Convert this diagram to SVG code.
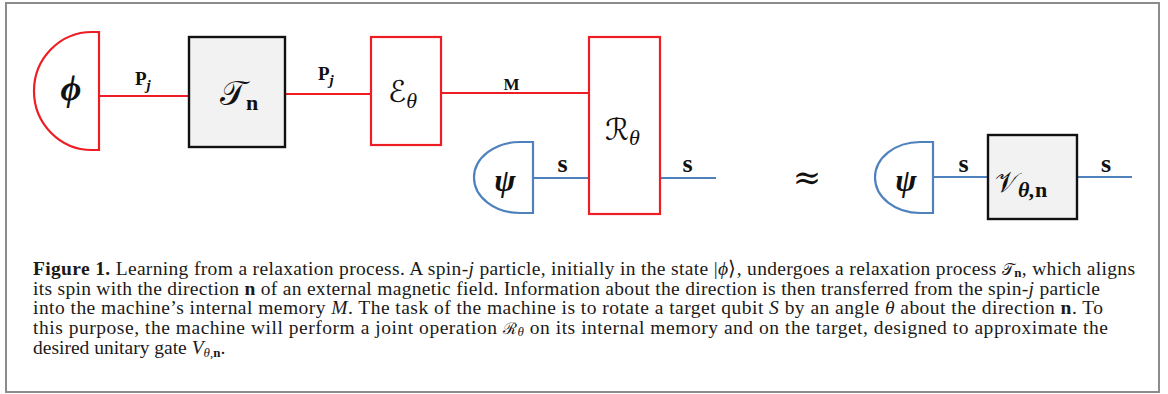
<svg xmlns="http://www.w3.org/2000/svg" width="1168" height="394" viewBox="0 0 1168 394">
<style>
.red{fill:none;stroke:#ee1d23;stroke-width:2.2}
.redbox{fill:#ffffff;stroke:#ee1d23;stroke-width:2.2}
.blue{fill:none;stroke:#4f81bd;stroke-width:2.2}
.bluebox{fill:#ffffff;stroke:#4f81bd;stroke-width:2.2}
.gbox{fill:#f2f2f2;stroke:#111;stroke-width:2.4}
.sym{font-family:"Liberation Serif","DejaVu Serif",serif;font-style:italic;font-weight:bold;fill:#111}
.scr{font-family:"DejaVu Serif","DejaVu Sans","Liberation Serif",serif;fill:#111}
.lab{font-family:"Liberation Serif","DejaVu Serif",serif;font-weight:bold;fill:#111}
.cap{font-family:"Liberation Serif","Times New Roman",serif;font-size:19.5px;fill:#1a1a1a}
.b{font-weight:bold}
.i{font-style:italic}
</style>
<rect x="6" y="3" width="1153" height="389" fill="#fff" stroke="#8c8c8c" stroke-width="2"/>

<g id="connectors">
<line class="red" x1="99" y1="96" x2="189" y2="96"/>
<line class="red" x1="285" y1="94" x2="371" y2="94"/>
<line class="red" x1="441" y1="93" x2="589" y2="93"/>
<line class="blue" x1="533" y1="178" x2="589" y2="178"/>
<line class="blue" x1="660" y1="178" x2="716" y2="178"/>
<line class="blue" x1="933" y1="177" x2="988" y2="177"/>
<line class="blue" x1="1077" y1="177" x2="1132" y2="177"/>
<text class="lab" x="135" y="85" font-size="19">P<tspan class="i" font-size="15" dy="5">j</tspan></text>
<text class="lab" x="318" y="80" font-size="19">P<tspan class="i" font-size="15" dy="5">j</tspan></text>
<text class="lab" x="511.5" y="90" font-size="17" text-anchor="middle">M</text>
<text class="lab" x="562.5" y="172" font-size="26" text-anchor="middle">s</text>
<text class="lab" x="687.5" y="172" font-size="26" text-anchor="middle">s</text>
<text class="lab" x="963.5" y="172" font-size="26" text-anchor="middle">s</text>
<text class="lab" x="1106" y="172" font-size="26" text-anchor="middle">s</text>
</g>

<g id="phi">
<path class="redbox" d="M99 32 L92 32 A58 59 0 0 0 92 150 L99 150 Z"/>
<text class="sym" x="71" y="100" font-size="36" text-anchor="middle">ϕ</text>
</g>

<g id="T">
<rect class="gbox" x="189" y="37" width="96" height="110"/>
<text class="scr" x="220" y="105" font-size="34">𝒯<tspan font-family="Liberation Serif" font-weight="bold" font-size="22" dy="5">n</tspan></text>
</g>

<g id="E">
<rect class="redbox" x="371" y="37" width="70" height="108"/>
<text class="scr" x="388" y="102" font-size="30">ℰ<tspan font-family="Liberation Serif" font-style="italic" font-size="22" dy="6">θ</tspan></text>
</g>

<g id="R">
<rect class="redbox" x="589" y="37" width="71" height="177"/>
<text class="scr" x="605" y="140" font-size="30">ℛ<tspan font-family="Liberation Serif" font-style="italic" font-size="22" dy="5">θ</tspan></text>
</g>

<g id="psi1">
<path class="bluebox" d="M533 142 L520 142 A46 35.5 0 0 0 520 213 L533 213 Z"/>
<text class="sym" x="505" y="191" font-size="32" text-anchor="middle">ψ</text>
</g>

<g id="approx">
<text x="807" y="189" font-family="DejaVu Serif, serif" font-size="34" text-anchor="middle" fill="#111">≈</text>
</g>

<g id="psi2">
<path class="bluebox" d="M933 142 L920 142 A45 35.5 0 0 0 920 213 L933 213 Z"/>
<text class="sym" x="906" y="191" font-size="32" text-anchor="middle">ψ</text>
</g>

<g id="V">
<rect class="gbox" x="988" y="135" width="89" height="84"/>
<text class="scr" x="995" y="192" font-size="28">𝒱<tspan font-family="Liberation Serif" font-style="italic" font-weight="bold" font-size="22" dy="5">θ,</tspan><tspan font-family="Liberation Serif" font-weight="bold" font-size="22">n</tspan></text>
</g>

<g id="caption">
<text class="cap" x="33" y="274.5" textLength="1102" lengthAdjust="spacing"><tspan class="b">Figure 1.</tspan> Learning from a relaxation process. A spin-<tspan class="i">j</tspan> particle, initially in the state |<tspan class="i">ϕ</tspan>⟩, undergoes a relaxation process <tspan font-family="DejaVu Serif, serif" font-size="16">𝒯</tspan><tspan class="b" font-size="13" dy="2">n</tspan><tspan dy="-2">, which aligns</tspan></text>
<text class="cap" x="33" y="294.7" textLength="1067" lengthAdjust="spacing">its spin with the direction <tspan class="b">n</tspan> of an external magnetic field. Information about the direction is then transferred from the spin-<tspan class="i">j</tspan> particle</text>
<text class="cap" x="33" y="314.4" textLength="1070" lengthAdjust="spacing">into the machine’s internal memory <tspan class="i">M</tspan>. The task of the machine is to rotate a target qubit <tspan class="i">S</tspan> by an angle <tspan class="i">θ</tspan> about the direction <tspan class="b">n</tspan>. To</text>
<text class="cap" x="33" y="334.1" textLength="1075" lengthAdjust="spacing">this purpose, the machine will perform a joint operation <tspan font-family="DejaVu Serif, serif" font-size="16">ℛ</tspan><tspan class="i" font-size="13" dy="2">θ</tspan><tspan dy="-2"> on its internal memory and on the target, designed to approximate the</tspan></text>
<text class="cap" x="33" y="353.8">desired unitary gate <tspan class="i">V</tspan><tspan class="i" font-size="13" dy="3">θ</tspan><tspan font-size="13">,</tspan><tspan class="b" font-size="13">n</tspan><tspan dy="-3">.</tspan></text>
</g>
</svg>
